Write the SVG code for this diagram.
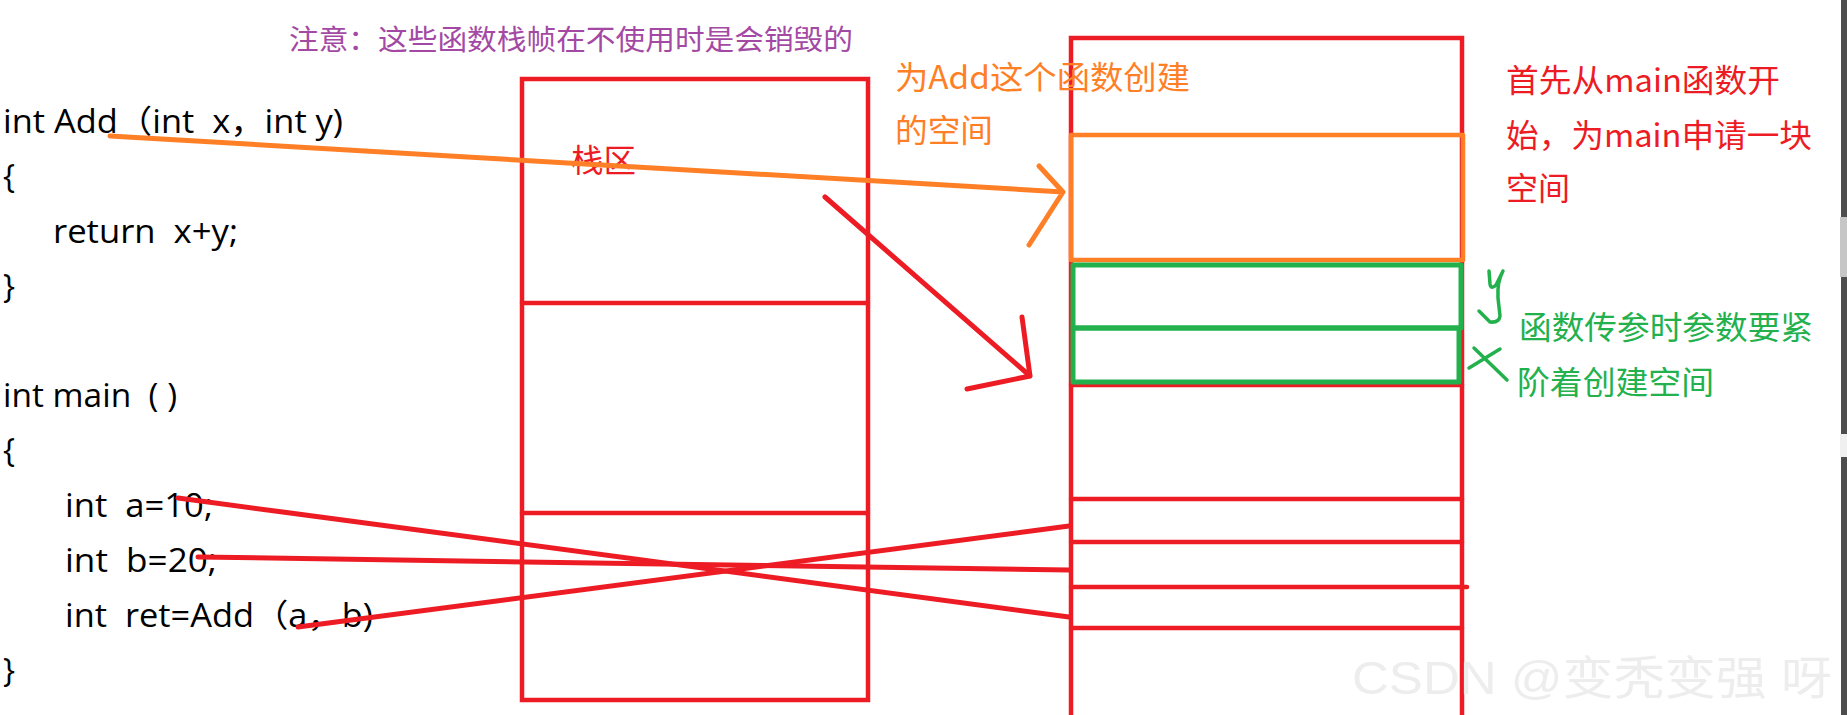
<svg xmlns="http://www.w3.org/2000/svg" width="1847" height="715" viewBox="0 0 1847 715">
<style>
.code{font-family:"Open Sans","Noto Sans","Noto Sans CJK SC",sans-serif;font-size:32px;fill:#000;white-space:pre}
.cjk{font-family:"Noto Sans CJK SC","Noto Sans",sans-serif;font-size:32px}
.red{fill:#ED1C24}
.org{fill:#FF7F27}
.grn{fill:#22B14C}
.pur{fill:#A349A4}
.rl{stroke:#ED1C24;stroke-width:4.5;fill:none;stroke-linecap:round}
.ol{stroke:#FF7F27;stroke-width:4.5;fill:none;stroke-linecap:round;stroke-linejoin:round}
.gl{stroke:#22B14C;stroke-width:5;fill:none;stroke-linecap:round;stroke-linejoin:round}
.cl{stroke:#ED1C24;stroke-width:5;fill:none;stroke-linecap:round;stroke-linejoin:round}
</style>
<rect width="1847" height="715" fill="#fff"/>

<g id="code">
<text class="code" xml:space="preserve" x="3" y="133" textLength="340" lengthAdjust="spacingAndGlyphs">int Add（int  x，int y)</text>
<text class="code" x="3" y="188">{</text>
<text class="code" xml:space="preserve" x="53" y="243" textLength="185" lengthAdjust="spacingAndGlyphs">return  x+y;</text>
<text class="code" x="3" y="298">}</text>
<text class="code" xml:space="preserve" x="3" y="407" textLength="174" lengthAdjust="spacingAndGlyphs">int main  ( )</text>
<text class="code" x="3" y="462">{</text>
<text class="code" xml:space="preserve" x="65" y="517" textLength="148" lengthAdjust="spacingAndGlyphs">int  a=10;</text>
<text class="code" xml:space="preserve" x="65" y="572" textLength="152" lengthAdjust="spacingAndGlyphs">int  b=20;</text>
<text class="code" xml:space="preserve" x="65" y="627" textLength="308" lengthAdjust="spacingAndGlyphs">int  ret=Add（a，b)</text>
<text class="code" x="3" y="682">}</text>
</g>

<g id="note">
<text class="cjk pur" x="289" y="50" style="font-size:28px" textLength="564" lengthAdjust="spacingAndGlyphs">注意：这些函数栈帧在不使用时是会销毁的</text>
</g>

<g id="stack-left">
<rect class="rl" x="522" y="79" width="346" height="621"/>
<line class="rl" x1="522" y1="303" x2="868" y2="303"/>
<line class="rl" x1="522" y1="513" x2="868" y2="513"/>
<text class="cjk red" x="571" y="172" textLength="65" lengthAdjust="spacingAndGlyphs">栈区</text>
</g>

<g id="stack-right">
<path class="rl" d="M1071,720 V38 H1462 V720"/>
<line class="rl" x1="1071" y1="385" x2="1462" y2="385"/>
<line class="rl" x1="1071" y1="499" x2="1462" y2="499"/>
<line class="rl" x1="1071" y1="542" x2="1462" y2="542"/>
<line class="rl" x1="1071" y1="587" x2="1467" y2="587"/>
<line class="rl" x1="1071" y1="628" x2="1462" y2="628"/>
</g>

<g id="add-frame">
<rect class="ol" x="1071" y="135" width="392" height="125"/>
</g>

<g id="param-y">
<rect class="gl" x="1073" y="265" width="388" height="63"/>
<path class="gl" style="stroke-width:3.5" d="M1489,271 L1490,284 Q1491,290 1496,285 L1503,271 M1503,271 Q1497,282 1498,298 L1500,316 Q1499,323 1490,322 L1479,311"/>
</g>
<g id="param-x">
<rect class="gl" x="1073" y="328" width="386" height="54"/>
<path class="gl" style="stroke-width:3.5" d="M1474,348 L1507,380 M1469,368 L1500,349"/>
</g>

<g id="labels">
<text class="cjk org" x="895" y="89" textLength="295" lengthAdjust="spacingAndGlyphs">为Add这个函数创建</text>
<text class="cjk org" x="895" y="142" textLength="98" lengthAdjust="spacingAndGlyphs">的空间</text>
<text class="cjk red" x="1506" y="92" textLength="274" lengthAdjust="spacingAndGlyphs">首先从main函数开</text>
<text class="cjk red" x="1506" y="147" textLength="306" lengthAdjust="spacingAndGlyphs">始，为main申请一块</text>
<text class="cjk red" x="1506" y="200" textLength="64" lengthAdjust="spacingAndGlyphs">空间</text>
<text class="cjk grn" x="1519" y="339" textLength="294" lengthAdjust="spacingAndGlyphs">函数传参时参数要紧</text>
<text class="cjk grn" x="1517" y="394" textLength="197" lengthAdjust="spacingAndGlyphs">阶着创建空间</text>
</g>

<g id="connectors">
<path class="ol" style="stroke-width:5" d="M110,136 L1063,192 M1039,166 L1063,192 L1029,245"/>
<path class="cl" d="M825,197 L1030,376 M1022,317 L1030,376 L967,389"/>
<line class="cl" x1="178" y1="498" x2="1069" y2="617"/>
<line class="cl" x1="198" y1="557" x2="1069" y2="570"/>
<line class="cl" x1="298" y1="627" x2="1069" y2="526"/>
</g>

<g id="watermark">
<text x="1352" y="694" style="font-family:'Liberation Sans','Noto Sans CJK SC',sans-serif;font-size:46px;fill:#ededed" textLength="480" lengthAdjust="spacingAndGlyphs">CSDN @变秃变强 呀</text>
</g>

<g id="scrollbar">
<rect x="1841" y="0" width="6" height="715" fill="#4d4d4d"/>
<rect x="1840" y="217" width="7" height="60" fill="#c6c6c6"/>
<rect x="1840" y="434" width="7" height="23" fill="#f0f0f0"/>
</g>
</svg>
